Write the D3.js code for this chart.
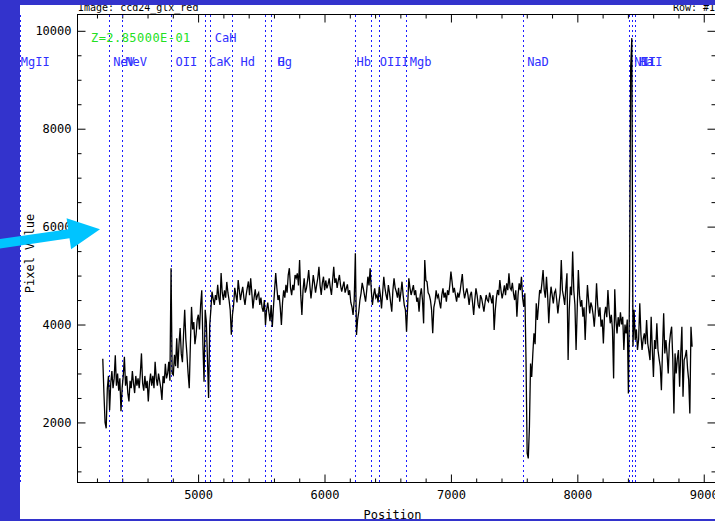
<!DOCTYPE html>
<html>
<head>
<meta charset="utf-8">
<script src="https://cdn.jsdelivr.net/npm/d3@7"></script>
<style>
  html, body { margin: 0; padding: 0; background: #3333cc; }
  svg { display: block; }
  text { font-family: "DejaVu Sans Mono", "Liberation Mono", monospace; }
</style>
</head>
<body>
<script>
// ---- spectrum: evenly sampled in Position ----
const WAVE_START = 4246;
const WAVE_STEP = 9;
const flux = [
  3300,2600,2000,1880,2700,2950,2250,2800,3050,2700,
  2900,3370,2750,3000,2650,2900,2230,2700,2950,3340,
  2750,2950,2600,2430,2850,2700,3050,2800,2600,2950,
  2750,2900,2700,3000,3410,2800,2650,2950,2700,2850,
  2430,2800,3000,2750,2950,2700,3240,2900,2750,3000,
  2850,2700,2460,2950,2800,3200,2900,3000,3240,2850,
  5150,3000,2970,3380,3150,3720,3110,3600,3930,3400,
  3230,3800,4300,3700,3380,3000,2700,3600,4360,3900,
  4050,3600,3790,4100,4200,3900,4400,4700,3600,2830,
  4300,4060,3300,2500,3990,4300,4670,4530,4400,4600,
  4500,4810,4550,4400,5050,4650,4500,4700,4550,4870,
  4650,4500,4300,3790,4200,4400,4750,4600,4450,4910,
  4700,4500,4650,4770,4550,4400,4600,4750,4880,4600,
  4945,4650,4330,4550,4720,4500,4600,4650,4400,4550,
  4350,4260,4500,3990,4300,4450,4250,4070,4400,3950,
  4350,4700,5050,4750,4500,4600,4350,3990,4450,4700,
  4550,4810,4650,5010,5150,4750,4600,4810,4700,5010,
  4950,5046,4800,5318,4600,4194,4700,4944,4650,4740,
  4900,5114,4800,4535,4750,5012,4850,4650,4807,4950,
  5181,4800,4603,4850,4977,4700,4900,4740,4820,4944,
  4750,4603,4900,5181,4850,4944,4750,4900,5012,4800,
  4670,4780,4875,4650,4740,4820,4603,4700,4450,4363,
  4194,4500,5455,3785,4100,4261,4500,4637,4850,4740,
  4600,4466,4700,4977,4800,5150,4700,4398,4600,4740,
  4550,4603,4450,4772,4600,4330,4650,4977,4750,4603,
  4500,4807,4650,4450,4261,4700,4944,4750,4670,4550,
  4750,4466,4650,4875,4600,4398,4300,3852,4400,4944,
  4750,4603,4700,4807,4600,4700,4466,4550,4261,4600,
  4740,4500,4024,5318,4900,4875,4650,4603,4500,4300,
  3820,4350,4466,4700,4550,4603,4450,4330,4600,4740,
  4550,4650,4466,4700,4603,4800,5080,4875,4650,4750,
  4603,4466,4650,4550,4670,4850,5030,4700,4535,4650,
  4740,4600,4398,4600,4670,4450,4194,4500,4740,4600,
  4400,4330,4600,4535,4400,4261,4450,4603,4500,4466,
  4650,4550,4433,4600,3887,4300,4550,4705,4600,4909,
  4700,4535,4650,4800,4600,4842,4700,5046,4750,4705,
  4850,4637,4500,4700,4159,4600,4842,4700,4977,4550,
  4363,4637,3274,1370,1265,1910,3205,2930,3410,3820,
  3600,4433,4092,4400,4705,4637,4850,5115,4705,4550,
  4977,4600,4025,4500,4773,4600,4433,4650,4705,4500,
  4228,4450,4637,5318,4700,4568,4400,4750,5046,3274,
  4300,4773,4600,5490,4700,4400,3480,4300,5115,4600,
  4363,4500,4159,4350,3683,4300,4807,4500,4228,4450,
  4363,4200,3956,4300,4842,4400,4159,4350,3956,4100,
  3615,4200,4363,4150,4705,4300,4025,4200,3900,2900,
  4720,4100,3820,4150,3956,4250,4000,4159,3480,4000,
  3820,4100,2590,4705,9260,9850,3550,4300,3683,3900,
  3480,3700,4433,3800,3480,3700,3820,3600,4092,3615,
  3450,3274,4159,3500,2930,3683,3500,4025,3480,3300,
  3138,2660,3500,4230,3410,3683,3400,3000,3600,3820,
  3956,3300,2185,3410,3000,3300,3480,2728,3400,3956,
  2525,3274,3350,3480,3100,2865,2185,3956,3546
];

// ---- spectral lines (rest wavelengths) and redshift ----
const REDSHIFT = 0.285;
const lineNames = ["MgII","NeV","NeV","OII","CaK","CaH","Hd","G","Hg","Hb","OIII","OIII","Mgb","NaD","NII","Ha","NII"];
const lineRest  = [2798.0,3345.9,3425.9,3727.3,3933.7,3968.5,4101.7,4304.4,4340.5,4861.3,4958.9,5006.8,5175.4,5892.5,6548.1,6562.8,6583.5];

// line labels: text, anchor (Position units), row (0 = main row, 1 = upper row)
const labelText = ["MgII","NeV","NeV","OII","CaK","CaH","Hd","G","Hg","Hb","OIII","Mgb","NaD","NII","Ha","NII"];
const labelAt   = [3597,4328,4424,4821,5087,5132,5335,5628,5628,6253,6437,6675,7603,8451,8488,8502];
const labelRow  = [0,0,0,0,0,1,0,0,0,0,0,0,0,0,0,0];

// ---- axes ----
const xDomain = [4046, 9093];
const yDomain = [773, 10333];
const xMajorTicks = [5000, 6000, 7000, 8000, 9000];
const yMajorTicks = [2000, 4000, 6000, 8000, 10000];
const xMinorStep = 200;
const yMinorStep = 500;

const imageTitle = "Image: ccd24_glx_red";
const rowTitle = "Row: #1";
const zText = "Z=2.85000E-01";
const xTitle = "Position";
const yTitle = "Pixel Value";

// ---- drawing ----
const W = 715, H = 521;
const plot = { left: 77.5, right: 715.5, top: 14.5, bottom: 482.5 };
const win = { x: 20, y: 5, w: 695, h: 514 };

const svg = d3.select("body").append("svg").attr("width", W).attr("height", H);
svg.append("rect").attr("width", W).attr("height", H).attr("fill", "#3333cc");

svg.append("defs").append("clipPath").attr("id", "win")
  .append("rect").attr("x", win.x).attr("y", win.y).attr("width", win.w).attr("height", win.h);

const g = svg.append("g").attr("clip-path", "url(#win)");
g.append("rect").attr("x", win.x).attr("y", win.y).attr("width", win.w).attr("height", win.h).attr("fill", "#ffffff");

const x = d3.scaleLinear().domain(xDomain).range([plot.left, plot.right]);
const y = d3.scaleLinear().domain(yDomain).range([plot.bottom, plot.top]);

const xMinor = d3.range(Math.ceil(xDomain[0] / xMinorStep) * xMinorStep, xDomain[1], xMinorStep)
  .filter(v => !xMajorTicks.includes(v));
const yMinor = d3.range(Math.ceil(yDomain[0] / yMinorStep) * yMinorStep, yDomain[1], yMinorStep)
  .filter(v => !yMajorTicks.includes(v));

function styleAxis(sel) {
  sel.select(".domain").remove();
  sel.selectAll(".tick line").attr("stroke", "#000").attr("stroke-width", 1);
  sel.selectAll(".tick text").attr("fill", "#000").attr("font-size", 12)
    .attr("font-family", "DejaVu Sans Mono");
}

// bottom axis
g.append("g").attr("transform", `translate(0,${plot.bottom})`)
  .call(d3.axisBottom(x).tickValues(xMajorTicks).tickSize(-8).tickPadding(8).tickFormat(d3.format("d")))
  .call(styleAxis);
g.append("g").attr("transform", `translate(0,${plot.bottom})`)
  .call(d3.axisBottom(x).tickValues(xMinor).tickSize(-4).tickFormat(""))
  .call(styleAxis);
// top axis (ticks only)
g.append("g").attr("transform", `translate(0,${plot.top})`)
  .call(d3.axisTop(x).tickValues(xMajorTicks).tickSize(-8).tickFormat(""))
  .call(styleAxis);
g.append("g").attr("transform", `translate(0,${plot.top})`)
  .call(d3.axisTop(x).tickValues(xMinor).tickSize(-4).tickFormat(""))
  .call(styleAxis);
// left axis
g.append("g").attr("transform", `translate(${plot.left},0)`)
  .call(d3.axisLeft(y).tickValues(yMajorTicks).tickSize(-8).tickPadding(6).tickFormat(d3.format("d")))
  .call(styleAxis);
g.append("g").attr("transform", `translate(${plot.left},0)`)
  .call(d3.axisLeft(y).tickValues(yMinor).tickSize(-4).tickFormat(""))
  .call(styleAxis);
// right axis (ticks only)
g.append("g").attr("transform", `translate(${plot.right},0)`)
  .call(d3.axisRight(y).tickValues(yMajorTicks).tickSize(-8).tickFormat(""))
  .call(styleAxis);
g.append("g").attr("transform", `translate(${plot.right},0)`)
  .call(d3.axisRight(y).tickValues(yMinor).tickSize(-4).tickFormat(""))
  .call(styleAxis);

// frame
g.append("rect")
  .attr("x", plot.left).attr("y", plot.top)
  .attr("width", plot.right - plot.left).attr("height", plot.bottom - plot.top)
  .attr("fill", "none").attr("stroke", "#000").attr("stroke-width", 1);

// redshifted line markers
const lineColor = "#1c1cff";
const lines = lineRest.map((r, i) => ({ name: lineNames[i], pos: r * (1 + REDSHIFT) }));
g.append("g").selectAll("line").data(lines).join("line")
  .attr("x1", d => x(d.pos)).attr("x2", d => x(d.pos))
  .attr("y1", plot.top).attr("y2", plot.bottom)
  .attr("stroke", lineColor).attr("stroke-width", 1)
  .attr("shape-rendering", "crispEdges")
  .attr("stroke-dasharray", "2,3");

// spectrum
const spec = flux.map((v, i) => ({ w: WAVE_START + i * WAVE_STEP, v }));
g.append("path").datum(spec)
  .attr("fill", "none").attr("stroke", "#000").attr("stroke-width", 1.3)
  .attr("stroke-linejoin", "miter")
  .attr("d", d3.line().x(d => x(d.w)).y(d => y(d.v)));

// line labels
const rowBaseline = [66, 42];
const labels = labelText.map((t, i) => ({ t, at: labelAt[i], row: labelRow[i] }));
g.append("g").selectAll("text").data(labels).join("text")
  .attr("x", d => x(d.at)).attr("y", d => rowBaseline[d.row])
  .attr("font-size", 12).attr("fill", "#3030ff")
  .text(d => d.t);

// redshift annotation
g.append("text").attr("x", 91).attr("y", 42).attr("font-size", 12)
  .attr("letter-spacing", 0.45).attr("fill", "#22e022").text(zText);

// titles
g.append("text").attr("x", 78).attr("y", 10.5).attr("font-size", 10).attr("fill", "#000").text(imageTitle);
g.append("text").attr("x", 673).attr("y", 10.5).attr("font-size", 10).attr("fill", "#000").text(rowTitle);
g.append("text").attr("x", (plot.left + plot.right) / 2 - 4).attr("y", 519)
  .attr("text-anchor", "middle").attr("font-size", 12).attr("fill", "#000").text(xTitle);
g.append("text").attr("transform", `translate(34,${(plot.top + plot.bottom) / 2 + 5}) rotate(-90)`)
  .attr("text-anchor", "middle").attr("font-size", 12).attr("fill", "#000").text(yTitle);

// pointer arrow
const tip = [100, 229.3];
const dir = [0.989, -0.143];
const perp = [0.143, 0.989];
const headLen = 31.5, headHalf = 15.7, shaftHalf = 4.6;
const base = [tip[0] - dir[0] * headLen, tip[1] - dir[1] * headLen];
const tail = [base[0] - dir[0] * 90, base[1] - dir[1] * 90];
const pt = (p, s) => [p[0] + perp[0] * s, p[1] + perp[1] * s];
const arrowPts = [
  pt(tail, -shaftHalf), pt(base, -shaftHalf), pt(base, -headHalf), tip,
  pt(base, headHalf), pt(base, shaftHalf), pt(tail, shaftHalf)
];
svg.append("polygon").attr("points", arrowPts.map(p => p.join(",")).join(" "))
  .attr("fill", "#00c4ff");
</script>
</body>
</html>
